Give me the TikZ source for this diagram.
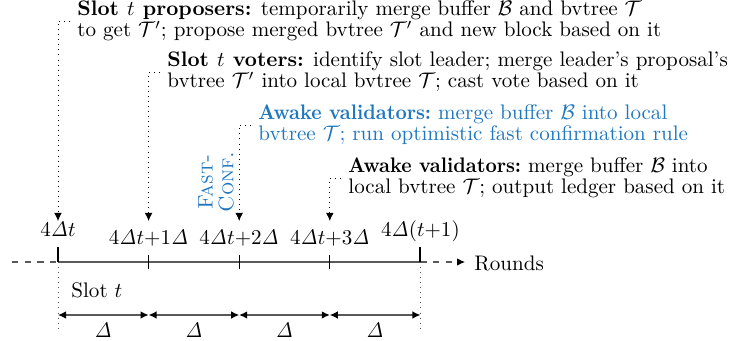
\documentclass[tikz,border=0pt]{standalone}
\usetikzlibrary{arrows.meta}
\definecolor{fcblue}{RGB}{31,119,190}
\newcommand{\Dl}{\mathit{\Delta}}
\newcommand{\awk}{\scalebox{0.93}[1]{\textbf{Awake validators:}}}
\begin{document}
\begin{tikzpicture}[x=0.475pt,y=-0.475pt,
  every node/.style={font=\fontsize{10}{9.9}\selectfont},
  desc/.style={anchor=west,align=left},
  tip/.style={-{Latex[length=3.8pt,width=3.6pt,black]}},
  ptr/.style={dotted,tip},
  tl/.style={black!65,line width=0.5pt},
  major/.style={line width=0.9pt},
  minor/.style={line width=0.5pt},
  span/.style={black!65,line width=0.6pt,{Latex[length=3.8pt,width=3.6pt,black]}-{Latex[length=3.8pt,width=3.6pt,black]}},
  ticklbl/.style={anchor=base},
  delta/.style={anchor=north}]
\useasboundingbox (0,0) rectangle (730,341);
% tick coordinates
\coordinate (t0) at (58,262);
\coordinate (t1) at (148.6,262);
\coordinate (t2) at (239.2,262);
\coordinate (t3) at (329.8,262);
\coordinate (t4) at (420.4,262);
\coordinate (l0) at (12,262);
\coordinate (r0) at (465,262);
% arrow tips
\coordinate (a0) at (58,221);
\coordinate (a1) at (148.6,221);
\coordinate (a2) at (239.2,221);
\coordinate (a3) at (329.8,221);
% timeline
\draw[tl,dashed] (l0) -- (t0);
\draw[tl] (t0) -- (t4);
\draw[tl,dashed,tip] (t4) -- (r0);
\node[anchor=west] (rounds) at (467,263) {Rounds};
% ticks
\draw[major] (t0) -- ++(0,-15);
\draw[major] (t4) -- ++(0,-15);
\draw[dotted,black!70] (t0) -- ++(0,70);
\draw[dotted,black!70] (t4) -- ++(0,70);
\foreach \t in {t1,t2,t3} \draw[minor] ([yshift=3.3pt]\t) -- ++(0,14);
% labels
\node[ticklbl] (L0) at (58,237) {$4\Dl t$};
\node[ticklbl] (L1) at (148.6,245) {$4\Dl t{+}1\Dl$};
\node[ticklbl] (L2) at (239.2,245) {$4\Dl t{+}2\Dl$};
\node[ticklbl] (L3) at (329.8,245) {$4\Dl t{+}3\Dl$};
\node[ticklbl] (L4) at (420.4,237) {$4\Dl(t{+}1)$};
\node[anchor=base west] (slot) at (64,298) {Slot $t$};
% spans
\coordinate (s0) at (58,315);
\coordinate (s1) at (148.6,315);
\coordinate (s2) at (239.2,315);
\coordinate (s3) at (329.8,315);
\coordinate (s4) at (420.4,315);
\draw[span] (s0) -- node[delta,black] (d1) {$\Dl$} (s1);
\draw[span] (s1) -- node[delta,black] (d2) {$\Dl$} (s2);
\draw[span] (s2) -- node[delta,black] (d3) {$\Dl$} (s3);
\draw[span] (s3) -- node[delta,black] (d4) {$\Dl$} (s4);
% descriptions
\node[desc] (prop) at (70,21) {\textbf{Slot $t$ proposers:} temporarily merge buffer $\mathcal{B}$ and bvtree $\mathcal{T}$\\to get $\mathcal{T}'$; propose merged bvtree $\mathcal{T}'$ and new block based on it};
\node[desc] (vote) at (160,72) {\textbf{Slot $t$ voters:} identify slot leader; merge leader's proposal's\\bvtree $\mathcal{T}'$ into local bvtree $\mathcal{T}$; cast vote based on it};
\node[desc,text=fcblue] (fast) at (251,125) {\awk{} merge buffer $\mathcal{B}$ into local\\bvtree $\mathcal{T}$; run optimistic fast confirmation rule};
\node[desc] (awake) at (341,178) {\awk{} merge buffer $\mathcal{B}$ into\\local bvtree $\mathcal{T}$; output ledger based on it};
\node[rotate=90,align=center,text=fcblue] (fc) at (216,182) {\textsc{Fast-}\\\textsc{Conf.}};
% pointers
\draw[ptr] (prop.west) -| (a0);
\draw[ptr] (vote.west) -| (a1);
\draw[ptr] (fast.west) -| (a2);
\draw[ptr] (awake.west) -| (a3);
\end{tikzpicture}
\end{document}
